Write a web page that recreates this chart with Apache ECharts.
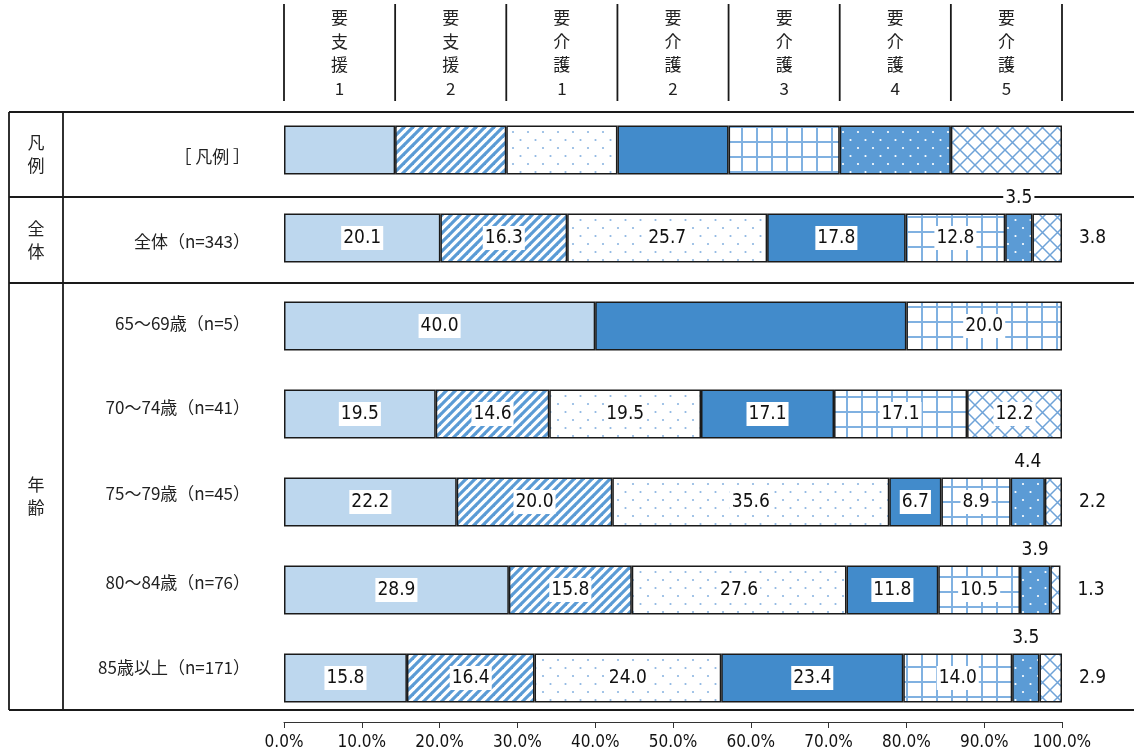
<!DOCTYPE html>
<html><head><meta charset="utf-8">
<script src="https://cdn.jsdelivr.net/npm/echarts@6/dist/echarts.min.js"></script>
<style>html,body{margin:0;padding:0;background:#fff}#c{width:1134px;height:756px}</style>
</head><body><div id="c"></div>
<script>
// ---- data ----
const seriesNames = ['要支援1','要支援2','要介護1','要介護2','要介護3','要介護4','要介護5'];
const rowLabels = ['［ 凡例 ］','全体（n=343）','65～69歳（n=5）','70～74歳（n=41）','75～79歳（n=45）','80～84歳（n=76）','85歳以上（n=171）'];
const groupLabels = ['凡例','全体','年齢'];
const legendSwatch = [1,1,1,1,1,1,1];      // equal-width legend cells
const total = [20.1,16.3,25.7,17.8,12.8,3.5,3.8];
const age65 = [40.0,0,0,40.0,20.0,0,0];
const age70 = [19.5,14.6,19.5,17.1,17.1,0,12.2];
const age75 = [22.2,20.0,35.6,6.7,8.9,4.4,2.2];
const age80 = [28.9,15.8,27.6,11.8,10.5,3.9,1.3];
const age85 = [15.8,16.4,24.0,23.4,14.0,3.5,2.9];
const hiddenLabels = [[2,3]]; // [row, series] labels absent in the original
const xTickValues = [0,10,20,30,40,50,60,70,80,90,100];

// style only: vertical nudge of each row label (px, + = down)
const rowLabelShift = [7,4,-2,-6,-8,-7,-10];

const legendRow = legendSwatch.map(v => v * 100 / legendSwatch.length);
const rows = [legendRow, total, age65, age70, age75, age80, age85];

// ---- patterns ----
function tile(w,h,draw){const c=document.createElement('canvas');c.width=w;c.height=h;const g=c.getContext('2d');draw(g,w,h);return {image:c,repeat:'repeat'};}
const stripes = tile(9,9,(g,w,h)=>{g.fillStyle='#fff';g.fillRect(0,0,w,h);g.strokeStyle='#5B9BD5';g.lineWidth=3.2;
  [[0,h,w,0],[-w/2,h/2,w/2,-h/2],[w/2,h*1.5,w*1.5,h/2]].forEach(l=>{g.beginPath();g.moveTo(l[0],l[1]);g.lineTo(l[2],l[3]);g.stroke();});});
const dots = tile(15,16,(g,w,h)=>{g.fillStyle='#fff';g.fillRect(0,0,w,h);g.fillStyle='#8DB6E2';
  [[3,4],[10.5,12]].forEach(p=>{g.beginPath();g.arc(p[0],p[1],1.1,0,Math.PI*2);g.fill();});});
const gridP = tile(15,15,(g,w,h)=>{g.fillStyle='#fff';g.fillRect(0,0,w,h);g.fillStyle='#80B1E1';g.fillRect(6,0,2,h);g.fillRect(0,6,w,2);});
const blueDots = tile(15,16,(g,w,h)=>{g.fillStyle='#5B9BD5';g.fillRect(0,0,w,h);g.fillStyle='#fff';
  [[3,4],[10.5,12]].forEach(p=>{g.beginPath();g.arc(p[0],p[1],1.1,0,Math.PI*2);g.fill();});});
const cross = tile(15,15,(g,w,h)=>{g.fillStyle='#fff';g.fillRect(0,0,w,h);g.strokeStyle='#6FA3D8';g.lineWidth=1.5;
  g.beginPath();g.moveTo(0,0);g.lineTo(w,h);g.moveTo(0,h);g.lineTo(w,0);g.stroke();});
const fills = ['#BDD7EE', stripes, dots, '#428BCB', gridP, blueDots, cross];

const numFont = "'DejaVu Sans Condensed','Liberation Sans Narrow','DejaVu Sans',sans-serif";
const jpFont = "'Noto Sans CJK JP','Noto Sans',sans-serif";

const series = seriesNames.map((name, s) => ({
  name, type:'bar', stack:'all', barWidth:49,
  itemStyle:{color:fills[s], borderColor:'#1a1a1a', borderWidth:1.5},
  data: rows.map((r, ri) => {
    const v = r[s];
    const item = {value:v};
    const hidden = ri === 0 || v === 0 || hiddenLabels.some(h => h[0]===ri && h[1]===s);
    if (v === 0) item.itemStyle = {borderWidth:0};
    let pos = 'inside', dist = 5;
    if (s === 5) { pos = 'top'; dist = 4; }
    else if (s === 6 && v < 5) { pos = 'right'; dist = 15; }
    item.label = {show:!hidden, position:pos, distance:dist};
    return item;
  }),
  label:{show:true, formatter:p=>p.value.toFixed(1), color:'#111', fontSize:19, fontFamily:numFont,
    backgroundColor:'#fff', padding:[3,2,2,2]}
}));

// rich spacer styles used to nudge row labels vertically
const rich = {t:{fontSize:17, color:'#222', fontFamily:jpFont, lineHeight:22}};
rowLabelShift.forEach(s => { const h = Math.abs(s)*2; rich['sp'+h] = {height:h, lineHeight:h, fontSize:1}; });

const chart = echarts.init(document.getElementById('c'), null, {renderer:'canvas'});
chart.setOption({
  animation:false,
  grid:{left:284, right:72, top:106, bottom:34, containLabel:false},
  xAxis:{type:'value', min:0, max:100, interval:10,
    axisLine:{show:true, lineStyle:{color:'#333', width:1}},
    axisTick:{show:true, length:6, lineStyle:{color:'#333'}},
    splitLine:{show:false},
    axisLabel:{margin:12, fontSize:17, color:'#111', fontFamily:numFont,
      formatter:v => xTickValues.includes(v) ? v.toFixed(1)+'%' : ''}},
  yAxis:{type:'category', inverse:true, data:rowLabels,
    axisLine:{show:false}, axisTick:{show:false},
    axisLabel:{margin:34, rich,
      formatter:(v, i) => {
        const s = rowLabelShift[i], h = Math.abs(s)*2;
        return s >= 0 ? `{sp${h}| }\n{t|${v}}` : `{t|${v}}\n{sp${h}| }`;
      }}},
  series
});

// ---- table decorations ----
const px = v => chart.convertToPixel({xAxisIndex:0}, v);
const g = [];
const L = {stroke:'#1a1a1a', lineWidth:1.8};
[112,197,283,710].forEach(y => g.push({type:'line', shape:{x1:9,y1:y,x2:1134,y2:y}, style:L, z:0}));
[9,63].forEach(x => g.push({type:'line', shape:{x1:x,y1:112,x2:x,y2:710}, style:L, z:0}));
const bands = [[112,197],[197,283],[283,710]];
groupLabels.forEach((t,i) => g.push({type:'text', x:36, y:(bands[i][0]+bands[i][1])/2,
  style:{text:t.split('').join('\n'), lineHeight:23, fill:'#222', font:'17px '+jpFont,
  align:'center', verticalAlign:'middle'}}));
let cum = 0;
const edges = [px(0)];
legendRow.forEach(v => { cum += v; edges.push(px(cum)); });
edges.forEach(x => g.push({type:'line', shape:{x1:x,y1:4,x2:x,y2:101}, style:L, z:0}));
seriesNames.forEach((n,i) => g.push({type:'text', x:(edges[i]+edges[i+1])/2, y:6,
  style:{text:n.split('').join('\n'), font:'17px '+jpFont, lineHeight:23.5, fill:'#222',
  align:'center', verticalAlign:'top'}}));
chart.setOption({graphic:g});
</script></body></html>
